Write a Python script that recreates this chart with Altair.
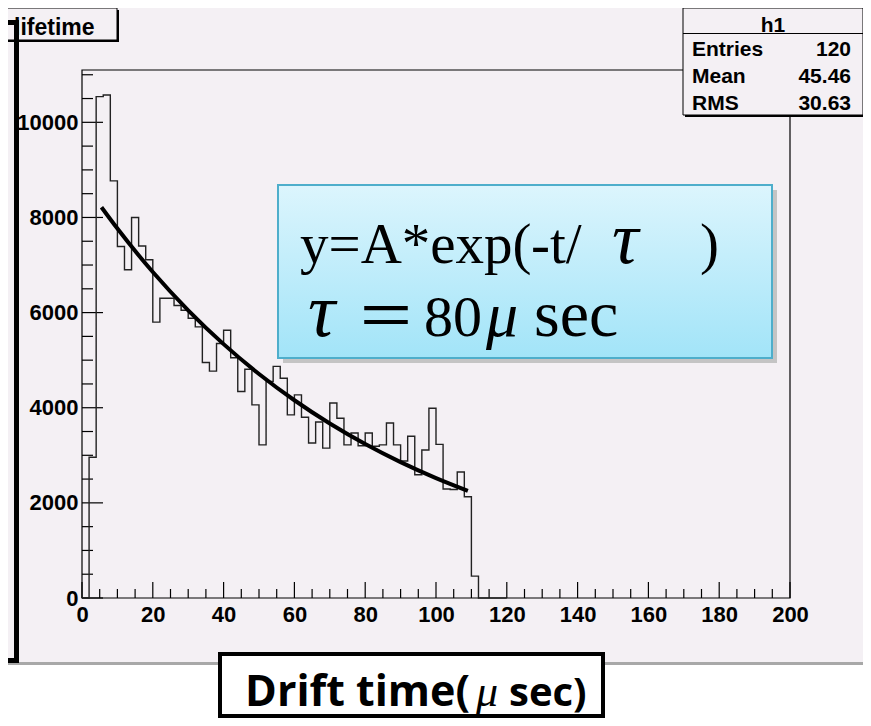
import altair as alt
import pandas as pd

# ---------------- data ----------------
bin_width = 2
hist_counts = [0, 2960, 10540, 10575, 8770, 7390, 6900, 8000, 7400, 7110,
               5800, 6300, 6300, 6150, 6050, 5880, 5700, 4950, 4770, 5350,
               5630, 5050, 4340, 4810, 4060, 3220, 4550, 4870, 4620, 3850,
               4270, 3800, 3260, 3700, 3150, 4100, 3780, 3220, 3470, 3200,
               3470, 3190, 3220, 3680, 3220, 2880, 3400, 2590, 3110, 3990,
               3230, 2290, 2280, 2650, 2130, 460, 0, 0, 0, 0]
fit_t = [5.5, 10, 20, 30, 40, 50, 60, 70, 80, 90, 100, 109]
fit_y = [8215, 7766, 6853, 6048, 5337, 4710, 4157, 3668, 3237, 2857, 2521, 2253]
x_major = list(range(0, 201, 20))
x_minor = [v for v in range(0, 201, 5) if v % 20]
y_major = list(range(0, 10001, 2000))
y_minor = [v for v in range(0, 11001, 500) if v % 2000]
stat_title = "h1"
stat_labels = ["Entries", "Mean", "RMS"]
stat_values = ["120", "45.46", "30.63"]
title_text = "lifetime"
x_title_parts = ["Drift time(", "\u03bc", "sec)"]

# ---------------- layout ----------------
W, H = 708, 528
OX, OY = 82, 70          # page position of the plot origin
BG = "#f4f0f4"
SANS = "Liberation Sans"
SERIF = "Liberation Serif"


def rx(px):
    return px - OX


def ry(py):
    return py - OY


one = pd.DataFrame({"a": [0]})

xs = alt.Scale(domain=[0, 200], nice=False, zero=False)
ys = alt.Scale(domain=[0, 11100], nice=False, zero=False)
x_axis = alt.Axis(values=x_major, format="d", title=None, grid=False, domain=False,
                  ticks=False, tickSize=0, labelFont=SANS, labelFontWeight="bold",
                  labelFontSize=22, labelColor="black", labelPadding=6,
                  labelFlush=False, labelOverlap=False, zindex=5)
y_axis = alt.Axis(values=y_major, format="d", title=None, grid=False, domain=False,
                  ticks=False, tickSize=0, labelFont=SANS, labelFontWeight="bold",
                  labelFontSize=22, labelColor="black", labelPadding=4,
                  labelOverlap=False, zindex=5)


def X(field="x"):
    return alt.X(f"{field}:Q", scale=xs, axis=x_axis)


def Y(field="y"):
    return alt.Y(f"{field}:Q", scale=ys, axis=y_axis)


def prect(x1, y1, x2, y2, **kw):
    return alt.Chart(one).mark_rect(**kw).encode(
        x=alt.value(rx(x1)), x2=alt.value(rx(x2)),
        y=alt.value(ry(y1)), y2=alt.value(ry(y2)))


def ptext(txt, px, py, size, font=SANS, weight="normal", style="normal",
          align="left", baseline="alphabetic"):
    return alt.Chart(one).mark_text(
        text=txt, font=font, fontSize=size, fontWeight=weight, fontStyle=style,
        align=align, baseline=baseline, color="black").encode(
        x=alt.value(rx(px)), y=alt.value(ry(py)))


layers = []
# canvas background and its bottom shadow
layers.append(prect(0, 7, 880, 662, fill=BG))
layers.append(prect(0, 662, 880, 665, fill="#a8a8a8"))
# frame
layers.append(prect(OX, OY, OX + W, OY + H, fill=None, stroke="black", strokeWidth=1.2,
                    filled=False))

# inside ticks
layers.append(alt.Chart(pd.DataFrame({"x": x_major})).mark_rule(color="black", strokeWidth=1.2)
              .encode(x=X(), y=alt.value(H), y2=alt.value(H - 16)))
layers.append(alt.Chart(pd.DataFrame({"x": x_minor})).mark_rule(color="black", strokeWidth=1.2)
              .encode(x=X(), y=alt.value(H), y2=alt.value(H - 9)))
layers.append(alt.Chart(pd.DataFrame({"y": y_major})).mark_rule(color="black", strokeWidth=1.2)
              .encode(y=Y(), x=alt.value(0), x2=alt.value(21)))
layers.append(alt.Chart(pd.DataFrame({"y": y_minor})).mark_rule(color="black", strokeWidth=1.2)
              .encode(y=Y(), x=alt.value(0), x2=alt.value(11)))

# histogram outline
n = len(hist_counts)
hist_df = pd.DataFrame({"x": [i * bin_width for i in range(n)] + [n * bin_width],
                        "y": hist_counts + [0]})
layers.append(alt.Chart(hist_df).mark_line(interpolate="step-after", color="#222222",
                                           strokeWidth=1.4).encode(x=X(), y=Y()))
# exponential fit
fit_df = pd.DataFrame({"x": fit_t, "y": fit_y})
layers.append(alt.Chart(fit_df).mark_line(interpolate="monotone", color="black",
                                          strokeWidth=4).encode(x=X(), y=Y()))

# blue formula box
grad = alt.LinearGradient(gradient="linear",
                          stops=[alt.GradientStop(color="#dcf5fd", offset=0),
                                 alt.GradientStop(color="#a2e4f8", offset=1)],
                          x1=0, x2=0, y1=0, y2=1)
layers.append(prect(283, 190, 777, 363, fill="#c4c4c4"))
layers.append(prect(278, 185, 772, 358, fill=grad, stroke="#4eaecb", strokeWidth=2))
layers.append(ptext("y=A*exp(", 300, 263, 57, font=SERIF))
layers.append(ptext("-t/", 531, 263, 57, font=SERIF))
layers.append(ptext("\u03c4", 612, 263, 74, font=SERIF, style="italic"))
layers.append(ptext(")", 700, 263, 57, font=SERIF))
layers.append(ptext("\u03c4", 308, 336, 76, font=SERIF, style="italic"))
layers.append(ptext("\uff1d", 356, 338, 60, font="Noto Sans CJK JP"))
layers.append(ptext("80", 424, 336, 58, font=SERIF))
layers.append(ptext("\u03bc", 486, 336, 64, font=SERIF, style="italic"))
layers.append(ptext("sec", 534, 336, 66, font=SERIF))

# "lifetime" title box
layers.append(prect(5, 10, 119, 42, fill="black"))
layers.append(prect(3, 8, 117, 40, fill=BG, stroke="black", strokeWidth=1))
layers.append(ptext(title_text, 14, 35, 23, weight="bold"))
# left bracket
layers.append(prect(14, 20, 19, 663, fill="black"))
layers.append(prect(0, 20, 19, 25, fill="black"))
layers.append(prect(0, 658, 19, 663, fill="black"))

# statistics box
layers.append(prect(685, 10, 865, 117, fill="black"))
layers.append(prect(683, 8, 863, 115, fill=BG, stroke="black", strokeWidth=1))
layers.append(prect(683, 33, 863, 34, fill="black"))
layers.append(ptext(stat_title, 773, 32, 21, weight="bold", align="center"))
for lab, val, yb in zip(stat_labels, stat_values, [56, 83, 110]):
    layers.append(ptext(lab, 692, yb, 21, weight="bold"))
    layers.append(ptext(val, 851, yb, 21, weight="bold", align="right"))

# x-title box
layers.append(prect(220, 654, 603, 716, fill="white", stroke="black", strokeWidth=4))
layers.append(ptext(x_title_parts[0], 470, 706, 43, font="Open Sans", weight="bold",
                    align="right"))
layers.append(ptext(x_title_parts[1], 476, 706, 44, font=SERIF, style="italic"))
layers.append(ptext(x_title_parts[2], 509, 706, 40, font="Open Sans", weight="bold"))

chart = alt.layer(*layers).properties(
    width=W, height=H,
    padding={"left": OX - 8, "top": OY - 8, "right": 855 - (OX - 8) - W,
             "bottom": 710 - (OY - 8) - H},
    autosize=alt.AutoSizeParams(type="none"),
    background="white",
).configure_view(stroke=None)

chart.save("out.html", embed_options={"renderer": "svg", "actions": False})
